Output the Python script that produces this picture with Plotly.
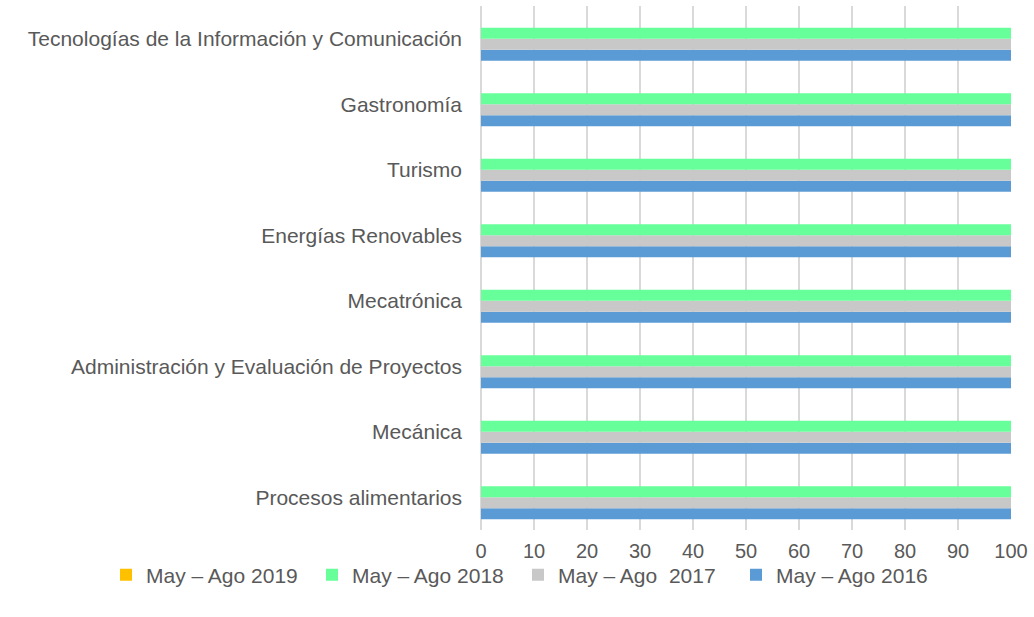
import plotly.graph_objects as go

categories = [
    "Procesos alimentarios",
    "Mecánica",
    "Administración y Evaluación de Proyectos",
    "Mecatrónica",
    "Energías Renovables",
    "Turismo",
    "Gastronomía",
    "Tecnologías de la Información y Comunicación",
]

series_names = ["May – Ago 2016", "May – Ago  2017", "May – Ago 2018", "May – Ago 2019"]
values_2016 = [100, 100, 100, 100, 100, 100, 100, 100]
values_2017 = [100, 100, 100, 100, 100, 100, 100, 100]
values_2018 = [100, 100, 100, 100, 100, 100, 100, 100]
values_2019 = [0, 0, 0, 0, 0, 0, 0, 0]
colors = ["#5B9BD5", "#C8C8C8", "#66FF99", "#FFC000"]

# one legend per series so the row never wraps; left edge of each entry text
legend_ids = ["legend4", "legend3", "legend2", "legend"]
legend_text_x = [776, 558, 352, 146]

fig = go.Figure()
for name, vals, col, lg in zip(series_names, [values_2016, values_2017, values_2018, values_2019],
                               colors, legend_ids):
    fig.add_trace(go.Bar(
        y=categories, x=vals, name=name, orientation="h",
        marker=dict(color=col, line=dict(width=0)),
        legend=lg, showlegend=True,
    ))

W, H = 1034, 617
font_family = "Liberation Sans, Arial, sans-serif"
legend_cfg = {}
for lg, tx in zip(legend_ids, legend_text_x):
    legend_cfg[lg] = dict(
        orientation="h", xref="container", yref="container",
        x=(tx - 40) / W, xanchor="left", y=1 - 575 / H, yanchor="middle",
        font=dict(size=21, color="#595959"), bgcolor="rgba(0,0,0,0)",
    )

fig.update_layout(
    showlegend=True,
    barmode="group",
    bargap=0.33,
    bargroupgap=0,
    width=W, height=H,
    margin=dict(l=481, r=23, t=6, b=87, autoexpand=False),
    paper_bgcolor="white", plot_bgcolor="white",
    font=dict(family=font_family, size=21, color="#595959"),
    xaxis=dict(
        range=[0, 100], dtick=10, showgrid=True, gridcolor="#D9D9D9", gridwidth=1.5,
        zeroline=True, zerolinecolor="#D9D9D9", zerolinewidth=1.5,
        ticks="", ticklabelstandoff=7, tickfont=dict(size=20),
        showline=False, automargin=False,
    ),
    yaxis=dict(
        showgrid=False, ticks="", ticklabelstandoff=18, tickfont=dict(size=21),
        showline=False, automargin=False,
    ),
    **legend_cfg,
)

fig.write_html("out.html")
